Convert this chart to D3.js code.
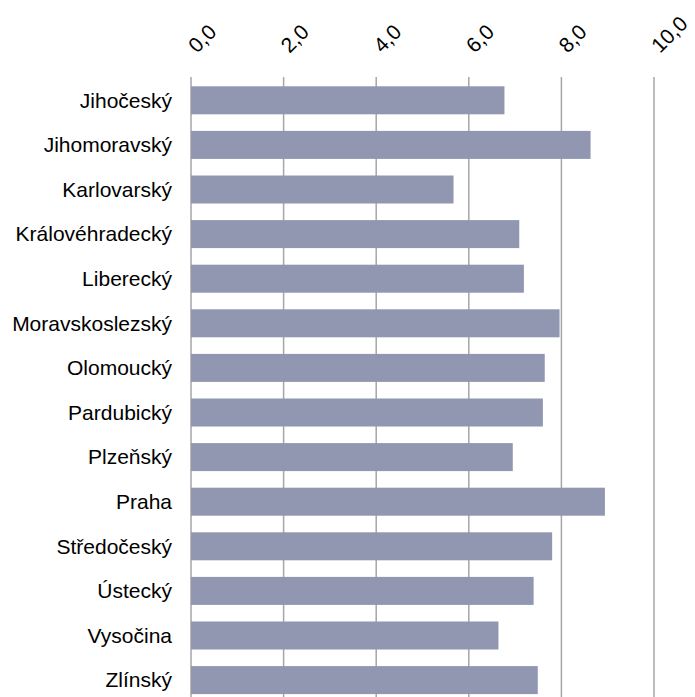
<!DOCTYPE html>
<html>
<head>
<meta charset="utf-8">
<script src="https://cdn.jsdelivr.net/npm/d3@7"></script>
<style>
  body { margin: 0; background: #fff; }
  svg text { font-family: "Liberation Sans", Arial, sans-serif; fill: #000; }
</style>
</head>
<body>
<div id="chart"></div>
<script>
const regions = ["Jihočeský", "Jihomoravský", "Karlovarský", "Královéhradecký", "Liberecký",
    "Moravskoslezský", "Olomoucký", "Pardubický", "Plzeňský", "Praha", "Středočeský",
    "Ústecký", "Vysočina", "Zlínský"];
const values = [6.77, 8.63, 5.67, 7.09, 7.19, 7.96, 7.64, 7.60, 6.95, 8.94, 7.80, 7.40, 6.64, 7.49];
const tickValues = [0, 2, 4, 6, 8, 10];

const W = 695, H = 697;
const margin = {top: 78, left: 191, right: 41};

const svg = d3.select("#chart").append("svg")
    .attr("width", W)
    .attr("height", H);

const x = d3.scaleLinear()
    .domain([0, 10])
    .range([margin.left, W - margin.right]);

const y = d3.scaleBand()
    .domain(regions)
    .range([margin.top, margin.top + 14 * 44.6])
    .paddingInner(0.372)
    .paddingOuter(0.186);

// grid lines
svg.append("g")
    .selectAll("line")
    .data(tickValues)
    .enter().append("line")
    .attr("x1", d => x(d))
    .attr("x2", d => x(d))
    .attr("y1", margin.top - 1)
    .attr("y2", H)
    .attr("stroke", "#a6a6a6")
    .attr("stroke-width", 1.5);

// bars
svg.append("g")
    .selectAll("rect")
    .data(regions)
    .enter().append("rect")
    .attr("x", x(0))
    .attr("y", d => y(d))
    .attr("width", (d, i) => x(values[i]) - x(0))
    .attr("height", y.bandwidth())
    .attr("fill", "#9197b0");

// category labels
svg.append("g")
    .selectAll("text")
    .data(regions)
    .enter().append("text")
    .attr("x", 172)
    .attr("y", d => y(d) + y.bandwidth() / 2)
    .attr("dy", "0.35em")
    .attr("text-anchor", "end")
    .style("font-size", "21px")
    .text(d => d);

// top axis labels, rotated
svg.append("g")
    .selectAll("text")
    .data(tickValues)
    .enter().append("text")
    .attr("transform", d => `translate(${x(d) + 6},${54}) rotate(-45)`)
    .attr("text-anchor", "start")
    .style("font-size", "21px")
    .text(d => d3.format(".1f")(d).replace(".", ","));
</script>
</body>
</html>
